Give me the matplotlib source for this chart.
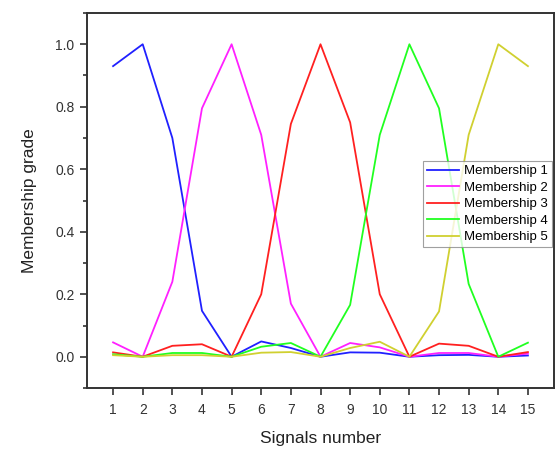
import matplotlib
matplotlib.use("Agg")
import matplotlib.pyplot as plt
from matplotlib.ticker import MultipleLocator

plt.rcParams['font.family'] = ['Liberation Sans', 'DejaVu Sans']

signals = list(range(1, 16))
membership_1 = [0.93, 1.0, 0.70, 0.147, 0.0, 0.049, 0.028, 0.0, 0.014, 0.013, 0.0, 0.005, 0.006, 0.0, 0.004]
membership_2 = [0.046, 0.0, 0.24, 0.795, 1.0, 0.71, 0.17, 0.0, 0.044, 0.03, 0.0, 0.012, 0.012, 0.0, 0.01]
membership_3 = [0.014, 0.0, 0.035, 0.04, 0.0, 0.20, 0.745, 1.0, 0.75, 0.20, 0.0, 0.042, 0.035, 0.0, 0.015]
membership_4 = [0.008, 0.0, 0.012, 0.012, 0.0, 0.032, 0.044, 0.0, 0.166, 0.71, 1.0, 0.795, 0.233, 0.0, 0.045]
membership_5 = [0.005, 0.0, 0.005, 0.005, 0.0, 0.013, 0.015, 0.0, 0.028, 0.048, 0.0, 0.145, 0.71, 1.0, 0.93]

series = [
    ("Membership 1", membership_1, '#2020ff'),
    ("Membership 2", membership_2, '#ff20ff'),
    ("Membership 3", membership_3, '#ff2020'),
    ("Membership 4", membership_4, '#20ff20'),
    ("Membership 5", membership_5, '#d0d030'),
]

fig = plt.figure(figsize=(5.57, 4.49), dpi=100)
ax = fig.add_axes([87 / 557, 61 / 449, 467 / 557, 375 / 449])

for name, values, color in series:
    ax.plot(signals, values, color=color, linewidth=1.3, label=name)

ax.set_xlim(0.12, 15.88)
ax.set_ylim(-0.1, 1.1)
ax.set_xticks(signals)
ax.yaxis.set_minor_locator(MultipleLocator(0.1))
ax.set_yticks([0.0, 0.2, 0.4, 0.6, 0.8, 1.0])
ax.set_yticklabels(['0.0', '0.2', '0.4', '0.6', '0.8', '1.0'])

for sp in ax.spines.values():
    sp.set_linewidth(1.4)
    sp.set_color('#333333')
ax.tick_params(axis='both', which='major', direction='out', length=5, width=1.2,
               color='#333333', labelsize=10, labelcolor='#333333')
ax.tick_params(axis='x', which='major', pad=6)
ax.tick_params(axis='y', which='major', pad=4)
ax.tick_params(axis='y', which='minor', direction='out', length=3, width=1.2, color='#333333')

ax.set_xlabel("Signals number", fontsize=12.5, color='#222222', labelpad=10)
ax.set_ylabel("Membership grade", fontsize=12.5, color='#222222', labelpad=13)

leg = ax.legend(loc='center right', bbox_to_anchor=(1.0, 0.49), fontsize=9.5,
                frameon=True, fancybox=False, edgecolor='#888888',
                handlelength=2.4, borderpad=0.3, labelspacing=0.32,
                handletextpad=0.4, borderaxespad=0.15)
leg.get_frame().set_linewidth(0.8)

fig.savefig("out.png", dpi=100)
